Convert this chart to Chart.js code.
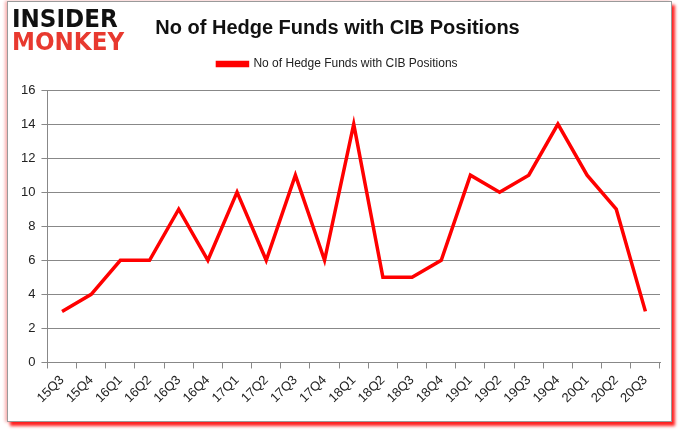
<!DOCTYPE html>
<html>
<head>
<meta charset="utf-8">
<script src="https://cdn.jsdelivr.net/npm/chart.js@4/dist/chart.umd.min.js"></script>
<style>
  html, body { margin: 0; padding: 0; background: #fff; }
  #wrap { position: relative; width: 680px; height: 433px; overflow: hidden; }
  #frame {
    position: absolute; left: 7px; top: 1px; width: 663px; height: 419px;
    border: 1px solid #9a9a9a; box-shadow: 3px 4px 3px #ff2020, -2px 0 3px #f8b0b0;
    background: #fff;
  }
  #chart { position: absolute; left: 0; top: 0; }
  #logo { position: absolute; left: 12px; top: 8px; font-family: "DejaVu Sans"; font-weight: bold;
    font-size: 24px; line-height: 23px; letter-spacing: 0px; transform: scaleX(0.96); transform-origin: left top; }
  #logo .a { color: #111; }
  #logo .b { color: #e8392f; }
</style>
</head>
<body>
<div id="wrap">
  <div id="frame"></div>
  <canvas id="chart" width="680" height="433"></canvas>
  <div id="logo"><div class="a">INSIDER</div><div class="b">MONKEY</div></div>
</div>
<script>
// chart data
var quarters = ['15Q3','15Q4','16Q1','16Q2','16Q3','16Q4','17Q1','17Q2','17Q3','17Q4',
                '18Q1','18Q2','18Q3','18Q4','19Q1','19Q2','19Q3','19Q4','20Q1','20Q2','20Q3'];
var funds = [3, 4, 6, 6, 9, 6, 10, 6, 11, 6, 14, 5, 5, 6, 11, 10, 11, 14, 11, 9, 3];
var seriesName = 'No of Hedge Funds with CIB Positions';
var chartTitle = 'No of Hedge Funds with CIB Positions';

var font = 'Liberation Sans';

// push the plot area down a bit below the legend
var legendGap = {
  id: 'legendGap',
  beforeInit: function(chart) {
    var fit = chart.legend.fit;
    chart.legend.fit = function() {
      fit.bind(chart.legend)();
      this.height += 10;
    };
  }
};

new Chart(document.getElementById('chart'), {
  type: 'line',
  data: {
    labels: quarters,
    datasets: [{
      label: seriesName,
      data: funds,
      borderColor: '#ff0000',
      backgroundColor: '#ff0000',
      borderWidth: 3.5,
      pointRadius: 0,
      tension: 0
    }]
  },
  options: {
    responsive: false,
    animation: false,
    layout: { padding: { left: 15, right: 20, top: 8, bottom: 23 } },
    plugins: {
      title: {
        display: true,
        text: chartTitle,
        color: '#111',
        font: { family: font, size: 20, weight: 'bold' },
        padding: { top: 8, bottom: 8 }
      },
      legend: {
        labels: {
          boxWidth: 30, boxHeight: 3, color: '#222',
          font: { family: font, size: 12 }
        }
      },
      tooltip: { enabled: false }
    },
    scales: {
      x: {
        offset: true,
        grid: { display: true, offset: true, drawOnChartArea: false, tickLength: 6, color: '#888' },
        border: { color: '#888' },
        ticks: { color: '#222', font: { family: font, size: 13 }, maxRotation: 45, minRotation: 45, padding: 4 }
      },
      y: {
        min: 0, max: 16,
        ticks: { stepSize: 2, color: '#222', font: { family: font, size: 13 }, padding: 6 },
        grid: { color: '#888', tickLength: 6 },
        border: { color: '#888' }
      }
    }
  },
  plugins: [legendGap]
});
</script>
</body>
</html>
